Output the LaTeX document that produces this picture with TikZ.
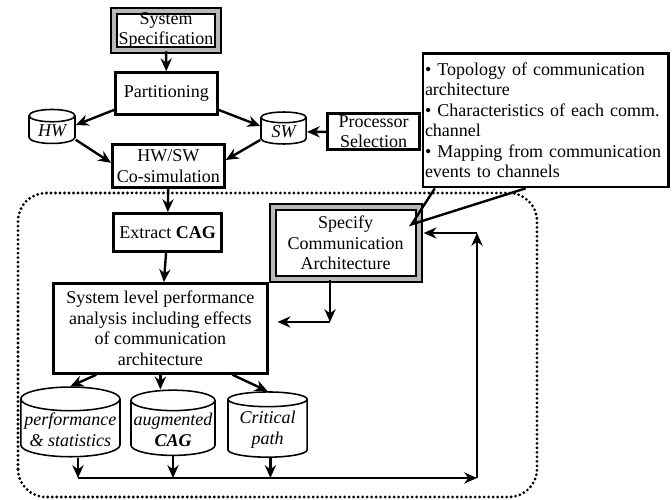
\documentclass[tikz,border=0pt]{standalone}
\usepackage{fontspec}
\setmainfont{Liberation Serif}
\usetikzlibrary{positioning, arrows.meta, shapes.geometric}

\begin{document}
\begin{tikzpicture}[
    font=\fontsize{12.8}{14.6}\selectfont,
    block/.style={rectangle, draw=black, line width=1.9pt, align=center, inner sep=1pt},
    shadedblock/.style={rectangle, draw=black, line width=1.5pt, double=gray!55,
                        double distance=2.8pt, align=center, inner sep=1pt},
    store/.style={cylinder, shape border rotate=90, draw=black, line width=1.1pt,
                  align=center, inner sep=1pt, font=\fontsize{12.8}{14.6}\selectfont\itshape},
    arrow/.style={-{Stealth[length=3.2mm, width=2.8mm]}, line width=1.7pt},
    notebox/.style={rectangle, draw=black, line width=2pt, fill=white,
                    align=left, inner xsep=0.05cm}
]
    \useasboundingbox (0, 0) rectangle (16.8, 12.5);

    % Specification and partitioning
    \node[shadedblock, minimum width=2.62cm, minimum height=0.98cm] (spec) at (4.15, 11.735) {System\\Specification};
    \node[block, minimum width=2.55cm, minimum height=1.05cm] (part) at (4.16, 10.16) {Partitioning};
    \node[store, minimum width=1.15cm, minimum height=0.85cm, aspect=0.4] (hw) at (1.3, 9.225) {HW};
    \node[store, minimum width=1.13cm, minimum height=0.8cm, aspect=0.4] (sw) at (7.09, 9.2) {SW};
    \node[block, minimum width=2.3cm, minimum height=0.9cm] (proc) at (9.34, 9.21) {Processor\\Selection};
    \node[block, minimum width=2.8cm, minimum height=1.07cm] (cosim) at (4.21, 8.35) {HW/SW\\Co-simulation};

    % Communication architecture loop
    \node[block, minimum width=2.7cm, minimum height=0.95cm] (extract) at (4.19, 6.69) {Extract \textbf{CAG}};
    \node[shadedblock, minimum width=3.65cm, minimum height=1.78cm] (arch) at (8.64, 6.425) {Specify\\Communication\\Architecture};
    \node[block, minimum width=5.35cm, minimum height=2.25cm] (perfan) at (4.01, 4.29)
        {System level performance\\analysis including effects\\of communication\\architecture};

    % Results
    \node[store, minimum width=2.48cm, minimum height=1.63cm, aspect=0.25] (stats) at (1.76, 1.76) {performance\\\& statistics};
    \node[store, minimum width=2.1cm, minimum height=1.63cm, aspect=0.25] (aug) at (4.325, 1.76) {augmented\\\textbf{CAG}};
    \node[store, minimum width=1.98cm, minimum height=1.63cm, aspect=0.25] (crit) at (6.69, 1.76) {Critical\\path};

    % Note on the architecture
    \node[notebox, text width=6.03cm, minimum height=3.33cm] (note) at (13.64, 9.49)
        {\textbullet{} Topology of communication\\architecture\\
         \textbullet{} Characteristics of each comm.\\channel\\
         \textbullet{} Mapping from communication\\events to channels};

    \coordinate (tip) at ([xshift=-0.2cm, yshift=-0.45cm]arch.north east);
    \coordinate (bus) at (11.925, 0.55);
    \coordinate (turn) at (11.925, 6.675);
    \coordinate (split) at (8.25, 4.45);

    \draw[line width=1.7pt] ([xshift=0.33cm]note.south west) -- (tip) -- ([xshift=2.6cm]note.south west);

    % Arrows
    \draw[arrow] (spec) -- (part);
    \draw[arrow] ([yshift=0.15cm]part.south west) -- ([yshift=0.15cm]hw.east);
    \draw[arrow] ([yshift=0.15cm]part.south east) -- ([yshift=0.15cm]sw.west);
    \draw[arrow] ([yshift=-0.22cm]hw.east) -- ([yshift=0.08cm]cosim.west);
    \draw[arrow] ([yshift=-0.2cm]sw.west) -- ([yshift=0.15cm]cosim.east);
    \draw[arrow] (proc) -- (sw);
    \draw[arrow] (cosim) -- (extract);
    \draw[arrow] (extract) -- (perfan);
    \draw[arrow] (arch.south -| split) -- (split);
    \draw[arrow] (split) -- ([xshift=0.22cm]perfan.east |- split);
    \draw[arrow] ([xshift=-1.6cm]perfan.south) -- (stats.north);
    \draw[arrow] (perfan.south) -- (perfan.south |- aug.north);
    \draw[arrow] ([xshift=1.8cm]perfan.south) -- (crit.north);

    % Feedback path
    \foreach \db/\dx in {stats/0.19, aug/0, crit/0.07}
        \draw[arrow] ([xshift=\dx cm]\db.south) -- ([xshift=\dx cm]\db.south |- bus);
    \draw[arrow] ([xshift=0.19cm]stats.south |- bus) -- (bus);
    \draw[arrow] (bus) -- (turn);
    \draw[arrow] (turn) -- ([xshift=0.1cm]arch.east |- turn);

    % Exploration region
    \draw[line width=2.2pt, dash pattern=on 0pt off 3.2pt, line cap=round, rounded corners=0.7cm]
        (0.45, 0.075) rectangle (13.425, 7.675);

\end{tikzpicture}
\end{document}
